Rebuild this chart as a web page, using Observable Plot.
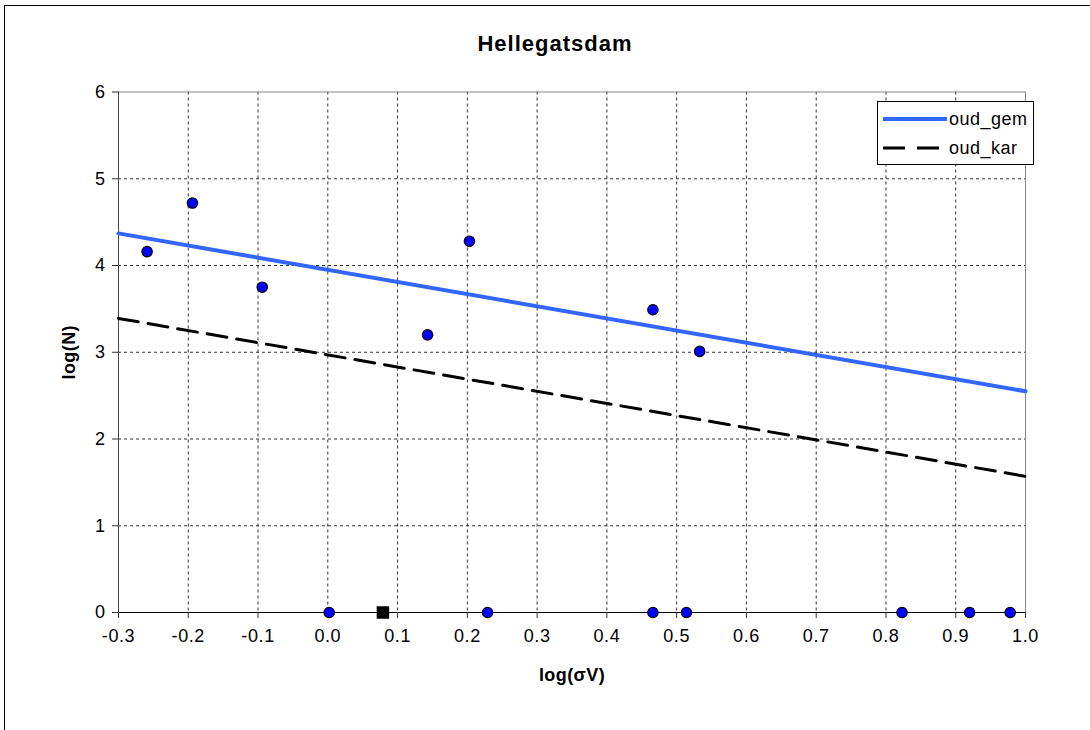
<!DOCTYPE html>
<html>
<head>
<meta charset="utf-8">
<script src="https://cdn.jsdelivr.net/npm/d3@7"></script>
<script src="https://cdn.jsdelivr.net/npm/@observablehq/plot@0.6"></script>
<style>
  html, body { margin: 0; padding: 0; background: #fff; overflow: hidden; }
  #wrap { position: relative; width: 1090px; height: 730px; }
  #frame { position: absolute; left: 4px; top: 5px; width: 1200px; height: 800px; border: 1px solid #000; box-sizing: border-box; pointer-events: none; }
  #chart { position: absolute; left: 0; top: 0; }
  #chart svg g[aria-label="x-axis tick label"] text,
  #chart svg g[aria-label="y-axis tick label"] text { letter-spacing: 0.6px; }
  #legend { position: absolute; left: 877px; top: 101px; width: 157px; height: 64px; border: 1px solid #000; background: #fff; box-sizing: border-box; }
</style>
</head>
<body>
<div id="wrap">
  <div id="frame"></div>
  <div id="chart"></div>
  <div id="legend"></div>
</div>
<script>
// ---- data ----
const titleText = "Hellegatsdam";
const xLabel = "log(σV)";
const yLabel = "log(N)";
const xTicks = [-0.3, -0.2, -0.1, 0.0, 0.1, 0.2, 0.3, 0.4, 0.5, 0.6, 0.7, 0.8, 0.9, 1.0];
const yTicks = [0, 1, 2, 3, 4, 5, 6];
const obsX = [-0.259, -0.194, -0.094, 0.143, 0.203, 0.466, 0.533, 0.002, 0.229, 0.466, 0.514, 0.823, 0.920, 0.978];
const obsY = [4.16, 4.72, 3.75, 3.20, 4.28, 3.49, 3.01, 0, 0, 0, 0, 0, 0, 0];
const sqX = [0.079];
const sqY = [0];
const lineX = [-0.3, 1.0];
const gemY = [4.37, 2.55];
const karY = [3.39, 1.57];
const seriesNames = ["oud_gem", "oud_kar"];

// ---- tables ----
const obs = obsX.map((x, i) => ({x, y: obsY[i]}));
const sq = sqX.map((x, i) => ({x, y: sqY[i]}));
const gem = lineX.map((x, i) => ({x, y: gemY[i]}));
const kar = lineX.map((x, i) => ({x, y: karY[i]}));

const fmt = d => d.toFixed(1);

const plot = Plot.plot({
  width: 1090,
  height: 730,
  marginLeft: 118,
  marginRight: 65,
  marginTop: 91.5,
  marginBottom: 118,
  style: {fontFamily: "'Liberation Sans', Arial, sans-serif", fontSize: "18px", background: "transparent", color: "#000"},
  x: {domain: [-0.3, 1.0]},
  y: {domain: [0, 6]},
  marks: [
    Plot.gridX(xTicks.slice(1, -1), {stroke: "#333", strokeOpacity: 1, strokeDasharray: "3,3"}),
    Plot.gridY(yTicks.slice(1, -1), {stroke: "#333", strokeOpacity: 1, strokeDasharray: "3,3"}),
    Plot.ruleY([6], {stroke: "#888"}),
    Plot.ruleX([1.0], {stroke: "#888"}),
    Plot.ruleX([-0.3], {stroke: "#444"}),
    Plot.ruleY([0], {stroke: "#000"}),
    Plot.axisX({ticks: xTicks, tickFormat: fmt, tickSize: 6, tickPadding: 11, label: null, stroke: "#333", fontSize: 18}),
    Plot.axisY({ticks: yTicks, tickFormat: d => String(d), tickSize: 6, tickPadding: 7, label: null, stroke: "#333", fontSize: 18}),
    Plot.line(gem, {x: "x", y: "y", stroke: "#3366ff", strokeWidth: 4}),
    Plot.line(kar, {x: "x", y: "y", stroke: "#000", strokeWidth: 3, strokeDasharray: "20,10"}),
    Plot.dot(obs, {x: "x", y: "y", r: 5.2, fill: "#0000ff", stroke: "#000", strokeWidth: 1.2}),
    Plot.dot(sq, {x: "x", y: "y", r: 6.2, symbol: "square", fill: "#000", stroke: "#000"}),
    Plot.text([titleText], {frameAnchor: "top", lineAnchor: "middle", dx: -17, dy: -48, fontWeight: "bold", fontSize: 22}),
    Plot.text([xLabel], {frameAnchor: "bottom", lineAnchor: "middle", dy: 63, fontWeight: "bold", fontSize: 18}),
    Plot.text([yLabel], {frameAnchor: "left", lineAnchor: "middle", textAnchor: "middle", dx: -49, rotate: -90, fontWeight: "bold", fontSize: 18})
  ]
});
document.getElementById("chart").appendChild(plot);
// letter spacing for the title and axis labels (Excel-style wide text)
d3.select(plot).selectAll("text").filter(function() { return this.textContent === titleText; }).style("letter-spacing", "1px");
d3.select(plot).selectAll("text").filter(function() { return this.textContent === xLabel || this.textContent === yLabel; }).style("letter-spacing", "0.4px");

// ---- legend ----
const leg = d3.select("#legend").append("svg").attr("width", 155).attr("height", 62)
  .style("font-family", "'Liberation Sans', Arial, sans-serif").style("font-size", "18px").style("letter-spacing", "0.5px");
leg.append("line").attr("x1", 5).attr("x2", 69).attr("y1", 17).attr("y2", 17)
  .attr("stroke", "#3366ff").attr("stroke-width", 4);
leg.append("line").attr("x1", 5).attr("x2", 63).attr("y1", 46).attr("y2", 46)
  .attr("stroke", "#000").attr("stroke-width", 3).attr("stroke-dasharray", "22,12");
leg.append("text").attr("x", 71).attr("y", 23).text(seriesNames[0]);
leg.append("text").attr("x", 71).attr("y", 52).text(seriesNames[1]);
</script>
</body>
</html>
